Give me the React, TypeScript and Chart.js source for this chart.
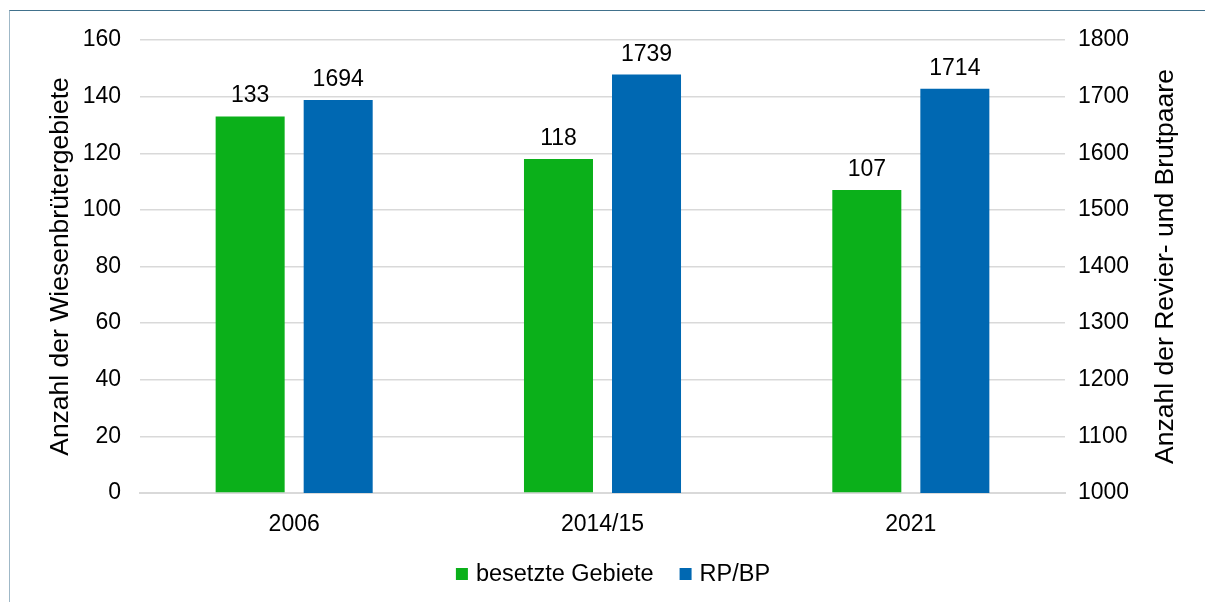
import React, { useEffect, useRef } from "react";
import { Chart, registerables } from "chart.js";

Chart.register(...registerables);

const categories = ["2006", "2014/15", "2021"];
const gebieteValues = [133, 118, 107];
const paareValues = [1694, 1739, 1714];
const seriesNames = ["besetzte Gebiete", "RP/BP"];
const leftTitle = "Anzahl der Wiesenbrütergebiete";
const rightTitle = "Anzahl der Revier- und Brutpaare";

const GREEN = "#0bb01a";
const BLUE = "#0068b2";
const FONT = "'Liberation Sans', Arial, sans-serif";
const TICK_SIZE = 23;
const LEGEND_SIZE = 23.5;
const TITLE_SIZE = 26.5;

const overlayPlugin = {
  id: "overlay",
  afterDatasetsDraw(chart: any) {
    const ctx = chart.ctx;
    ctx.save();
    ctx.font = `${TICK_SIZE}px ${FONT}`;
    ctx.fillStyle = "#000";
    ctx.textAlign = "center";
    ctx.textBaseline = "alphabetic";
    chart.data.datasets.forEach((ds: any, i: number) => {
      const meta = chart.getDatasetMeta(i);
      meta.data.forEach((bar: any, j: number) => {
        ctx.fillText(String(ds.data[j]), bar.x, bar.y - 14);
      });
    });
    const { top, bottom } = chart.chartArea;
    const cy = (top + bottom) / 2;
    ctx.font = `${TITLE_SIZE}px ${FONT}`;
    ctx.textBaseline = "middle";
    ctx.save();
    ctx.translate(61, cy);
    ctx.rotate(-Math.PI / 2);
    ctx.fillText(leftTitle, 0, 0);
    ctx.restore();
    ctx.save();
    ctx.translate(1166, cy);
    ctx.rotate(-Math.PI / 2);
    ctx.fillText(rightTitle, 0, 0);
    ctx.restore();

    // legend
    ctx.font = `${LEGEND_SIZE}px ${FONT}`;
    ctx.textAlign = "left";
    const colors = chart.data.datasets.map((d: any) => d.backgroundColor);
    const labels = chart.data.datasets.map((d: any) => d.label);
    const box = 12;
    const gap = 8;
    const itemGap = 26;
    const widths = labels.map((l: string) => ctx.measureText(l).width);
    let total = 0;
    widths.forEach((w: number, i: number) => {
      total += box + gap + w + (i < widths.length - 1 ? itemGap : 0);
    });
    let x = 613 - total / 2;
    const ly = 574;
    labels.forEach((l: string, i: number) => {
      ctx.fillStyle = colors[i];
      ctx.fillRect(x, ly - box / 2, box, box);
      ctx.fillStyle = "#000";
      ctx.fillText(l, x + box + gap, ly + 1);
      x += box + gap + widths[i] + itemGap;
    });
    ctx.restore();
  },
};

export default function App() {
  const ref = useRef<HTMLCanvasElement>(null);
  useEffect(() => {
    if (!ref.current) return;
    Chart.defaults.font.family = FONT;
    const chart = new Chart(ref.current, {
      type: "bar",
      data: {
        labels: categories,
        datasets: [
          {
            label: seriesNames[0],
            data: gebieteValues,
            backgroundColor: GREEN,
            yAxisID: "y",
            categoryPercentage: 0.571,
            barPercentage: 0.784,
          },
          {
            label: seriesNames[1],
            data: paareValues,
            backgroundColor: BLUE,
            yAxisID: "y1",
            categoryPercentage: 0.571,
            barPercentage: 0.784,
          },
        ],
      },
      options: {
        responsive: false,
        maintainAspectRatio: false,
        animation: false,
        layout: { padding: { left: 47, right: 27, top: 40, bottom: 49 } },
        plugins: {
          tooltip: { enabled: false },
          legend: { display: false },
        },
        scales: {
          x: {
            grid: { display: false, drawTicks: false },
            border: { display: true, color: "#d9d9d9", width: 2 },
            ticks: { color: "#000", padding: 18, font: { size: TICK_SIZE } },
            afterFit: (s: any) => {
              s.height = 60;
            },
          },
          y: {
            position: "left",
            min: 0,
            max: 160,
            ticks: { stepSize: 20, color: "#000", padding: 19, font: { size: TICK_SIZE } },
            grid: { color: "#d9d9d9", lineWidth: 1.5, drawTicks: false },
            border: { display: false },
            afterFit: (s: any) => {
              s.width = 93;
            },
          },
          y1: {
            position: "right",
            min: 1000,
            max: 1800,
            ticks: {
              stepSize: 100,
              color: "#000",
              padding: 13,
              font: { size: TICK_SIZE },
              callback: (v: any) => String(v),
            },
            grid: { display: false, drawTicks: false },
            border: { display: false },
            afterFit: (s: any) => {
              s.width = 113;
            },
          },
        },
      },
      plugins: [overlayPlugin],
    } as any);
    return () => chart.destroy();
  }, []);
  return (
    <>
      <div
        style={{
          position: "fixed",
          left: 9,
          top: 10,
          right: -20,
          bottom: -20,
          borderTop: "1.5px solid #41718c",
          borderLeft: "1.5px solid #9fb8c7",
        }}
      />
      <canvas
        ref={ref}
        width={1205}
        height={602}
        style={{ position: "fixed", left: 0, top: 0, width: 1205, height: 602 }}
      />
    </>
  );
}
